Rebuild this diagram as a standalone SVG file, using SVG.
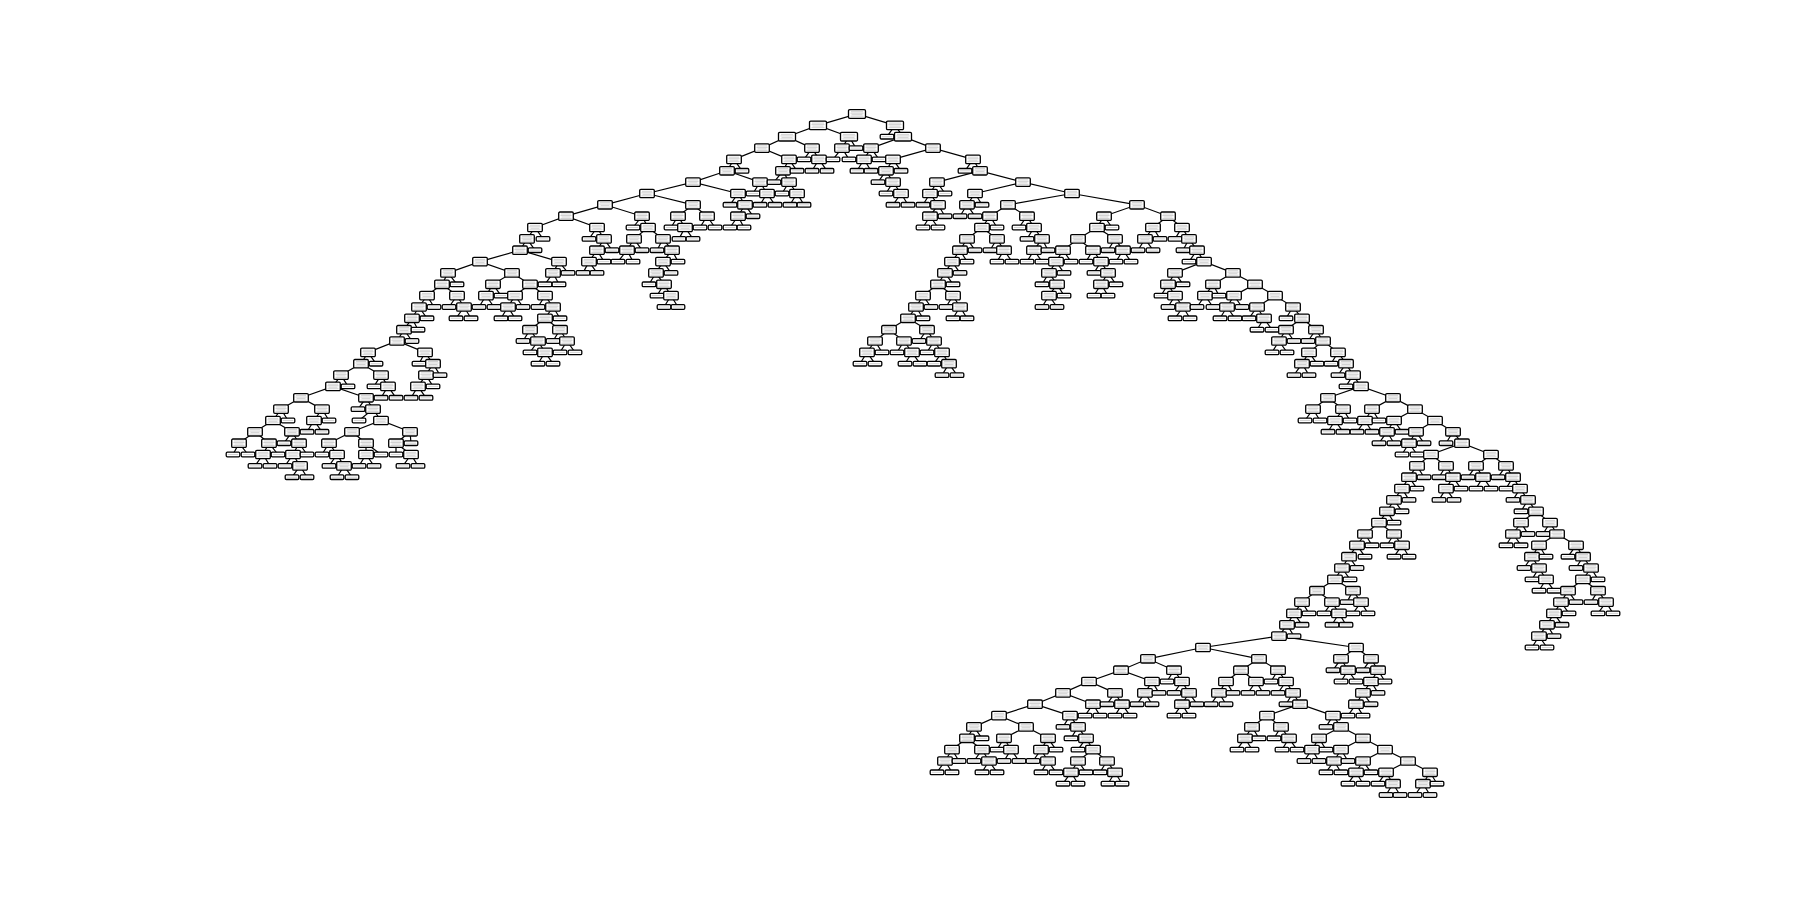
<svg xmlns="http://www.w3.org/2000/svg" width="1800" height="900" viewBox="0 0 1800 900">
<style>
.b{fill:#fff;stroke:#000;stroke-width:1.3}
.t{stroke:#b4b4b4;stroke-width:.6;fill:none}
#edges{stroke:#000;stroke-width:1.2;fill:none}
</style>
<defs>
<g id="W"><rect class="b" x="-8.5" y="-4.3" width="17" height="8.6" rx="1.2"/><path class="t" d="M-6-2.3h12M-6.5-.8h13M-5.5.7h11M-6.5 2.2h13"/></g>
<g id="I"><rect class="b" x="-7.3" y="-4.2" width="14.6" height="8.4" rx="1.2"/><path class="t" d="M-5-2.2h10M-5.5-.7h11M-4.5.8h9M-5.5 2.3h11"/></g>
<g id="L"><rect class="b" x="-6.8" y="-2.3" width="13.6" height="4.6" rx="1.2"/><path class="t" d="M-5.2 0h10.4"/></g>
</defs>
<rect width="1800" height="900" fill="#fff"/>
<g id="edges"><path d="M818 125.4L857 114L895 125.4
M787 136.7L818 125.4L849 136.7M887 136.7L895 125.4L903 136.7
M762 148.1L787 136.7L812 148.1M842 148.1L849 136.7L856 148.1M871 148.1L903 136.7L933 148.1
M734 159.4L762 148.1L789 159.4M804 159.4L812 148.1L819 159.4M833 159.4L842 148.1L849 159.4M864 159.4L871 148.1L879 159.4M893 159.4L933 148.1L973 159.4
M727 170.8L734 159.4L742 170.8M783 170.8L789 159.4L797 170.8M812 170.8L819 159.4L827 170.8M857 170.8L864 159.4L871 170.8M886 170.8L893 159.4L901 170.8M965 170.8L973 159.4L980 170.8
M693 182.1L727 170.8L760 182.1M774 182.1L783 170.8L789 182.1M878 182.1L886 170.8L893 182.1M937 182.1L980 170.8L1023 182.1
M647 193.5L693 182.1L738 193.5M753 193.5L760 182.1L767 193.5M782 193.5L789 182.1L797 193.5M886 193.5L893 182.1L901 193.5M930 193.5L937 182.1L945 193.5M975 193.5L1023 182.1L1072 193.5
M605 204.8L647 193.5L693 204.8M730 204.8L738 193.5L745 204.8M760 204.8L767 193.5L775 204.8M790 204.8L797 193.5L804 204.8M893 204.8L901 193.5L908 204.8M923 204.8L930 193.5L938 204.8M967 204.8L975 193.5L982 204.8M1008 204.8L1072 193.5L1137 204.8
M566 216.2L605 204.8L642 216.2M678 216.2L693 204.8L707 216.2M738 216.2L745 204.8L753 216.2M930 216.2L938 204.8L945 216.2M960 216.2L967 204.8L975 216.2M990 216.2L1008 204.8L1027 216.2M1104 216.2L1137 204.8L1168 216.2
M535 227.5L566 216.2L597 227.5M633 227.5L642 216.2L648 227.5M671 227.5L678 216.2L685 227.5M700 227.5L707 216.2L715 227.5M730 227.5L738 216.2L744 227.5M923 227.5L930 216.2L938 227.5M982 227.5L990 216.2L997 227.5M1019 227.5L1027 216.2L1034 227.5M1097 227.5L1104 216.2L1112 227.5M1153 227.5L1168 216.2L1182 227.5
M527 238.9L535 227.5L543 238.9M589 238.9L597 227.5L604 238.9M634 238.9L648 227.5L663 238.9M679 238.9L685 227.5L693 238.9M967 238.9L982 227.5L997 238.9M1027 238.9L1034 227.5L1042 238.9M1078 238.9L1097 227.5L1115 238.9M1145 238.9L1153 227.5L1160 238.9M1175 238.9L1182 227.5L1189 238.9
M520 250.2L527 238.9L535 250.2M597 250.2L604 238.9L612 250.2M627 250.2L634 238.9L642 250.2M657 250.2L663 238.9L672 250.2M960 250.2L967 238.9L975 250.2M990 250.2L997 238.9L1004 250.2M1034 250.2L1042 238.9L1048 250.2M1063 250.2L1078 238.9L1093 250.2M1108 250.2L1115 238.9L1123 250.2M1138 250.2L1145 238.9L1153 250.2M1183 250.2L1189 238.9L1197 250.2
M480 261.6L520 250.2L559 261.6M589 261.6L597 250.2L604 261.6M618 261.6L627 250.2L633 261.6M663 261.6L672 250.2L678 261.6M952 261.6L960 250.2L967 261.6M997 261.6L1004 250.2L1012 261.6M1027 261.6L1034 250.2L1042 261.6M1056 261.6L1063 250.2L1071 261.6M1086 261.6L1093 250.2L1101 261.6M1116 261.6L1123 250.2L1131 261.6M1189 261.6L1197 250.2L1204 261.6
M448 272.9L480 261.6L512 272.9M553 272.9L559 261.6L568 272.9M583 272.9L589 261.6L597 272.9M656 272.9L663 261.6L671 272.9M945 272.9L952 261.6L960 272.9M1049 272.9L1056 261.6L1064 272.9M1094 272.9L1101 261.6L1108 272.9M1175 272.9L1204 261.6L1233 272.9
M442 284.3L448 272.9L457 284.3M493 284.3L512 272.9L530 284.3M545 284.3L553 272.9L559 284.3M649 284.3L656 272.9L664 284.3M938 284.3L945 272.9L953 284.3M1042 284.3L1049 272.9L1057 284.3M1101 284.3L1108 272.9L1116 284.3M1168 284.3L1175 272.9L1183 284.3M1213 284.3L1233 272.9L1255 284.3
M427 295.6L442 284.3L457 295.6M486 295.6L493 284.3L501 295.6M515 295.6L530 284.3L545 295.6M657 295.6L664 284.3L671 295.6M923 295.6L938 284.3L953 295.6M1049 295.6L1057 284.3L1064 295.6M1094 295.6L1101 284.3L1108 295.6M1161 295.6L1168 284.3L1175 295.6M1205 295.6L1213 284.3L1219 295.6M1234 295.6L1255 284.3L1275 295.6
M419 307L427 295.6L434 307M449 307L457 295.6L464 307M479 307L486 295.6L494 307M508 307L515 295.6L523 307M538 307L545 295.6L553 307M664 307L671 295.6L678 307M916 307L923 295.6L931 307M946 307L953 295.6L960 307M1042 307L1049 295.6L1057 307M1168 307L1175 295.6L1183 307M1197 307L1205 295.6L1213 307M1227 307L1234 295.6L1242 307M1257 307L1275 295.6L1293 307
M412 318.3L419 307L427 318.3M456 318.3L464 307L471 318.3M501 318.3L508 307L515 318.3M545 318.3L553 307L560 318.3M908 318.3L916 307L923 318.3M953 318.3L960 307L967 318.3M1175 318.3L1183 307L1190 318.3M1220 318.3L1227 307L1235 318.3M1249 318.3L1257 307L1264 318.3M1286 318.3L1293 307L1302 318.3
M404 329.7L412 318.3L418 329.7M530 329.7L545 318.3L560 329.7M889 329.7L908 318.3L927 329.7M1257 329.7L1264 318.3L1272 329.7M1286 329.7L1302 318.3L1316 329.7
M397 341L404 329.7L412 341M523 341L530 329.7L538 341M553 341L560 329.7L567 341M875 341L889 329.7L904 341M919 341L927 329.7L934 341M1279 341L1286 329.7L1294 341M1308 341L1316 329.7L1323 341
M368 352.4L397 341L425 352.4M530 352.4L538 341L545 352.4M560 352.4L567 341L575 352.4M867 352.4L875 341L882 352.4M897 352.4L904 341L912 352.4M927 352.4L934 341L942 352.4M1272 352.4L1279 341L1287 352.4M1309 352.4L1323 341L1338 352.4
M361 363.7L368 352.4L376 363.7M419 363.7L425 352.4L433 363.7M538 363.7L545 352.4L553 363.7M860 363.7L867 352.4L875 363.7M905 363.7L912 352.4L920 363.7M934 363.7L942 352.4L949 363.7M1302 363.7L1309 352.4L1317 363.7M1331 363.7L1338 352.4L1346 363.7
M341 375.1L361 363.7L381 375.1M426 375.1L433 363.7L440 375.1M942 375.1L949 363.7L957 375.1M1294 375.1L1302 363.7L1309 375.1M1338 375.1L1346 363.7L1353 375.1
M333 386.4L341 375.1L348 386.4M374 386.4L381 375.1L388 386.4M418 386.4L426 375.1L433 386.4M1346 386.4L1353 375.1L1361 386.4
M301 397.8L333 386.4L366 397.8M381 397.8L388 386.4L396 397.8M411 397.8L418 386.4L426 397.8M1328 397.8L1361 386.4L1393 397.8
M281 409.1L301 397.8L322 409.1M358 409.1L366 397.8L373 409.1M1313 409.1L1328 397.8L1343 409.1M1372 409.1L1393 397.8L1415 409.1
M273 420.5L281 409.1L288 420.5M314 420.5L322 409.1L329 420.5M359 420.5L373 409.1L381 420.5M1305 420.5L1313 409.1L1320 420.5M1335 420.5L1343 409.1L1350 420.5M1365 420.5L1372 409.1L1379 420.5M1394 420.5L1415 409.1L1435 420.5
M255 431.8L273 420.5L292 431.8M307 431.8L314 420.5L322 431.8M352 431.8L381 420.5L410 431.8M1328 431.8L1335 420.5L1343 431.8M1357 431.8L1365 420.5L1372 431.8M1387 431.8L1394 420.5L1402 431.8M1416 431.8L1435 420.5L1453 431.8
M239 443.2L255 431.8L269 443.2M284 443.2L292 431.8L299 443.2M329 443.2L352 431.8L366 443.2M396 443.2L410 431.8L411 443.2M1379 443.2L1387 431.8L1394 443.2M1409 443.2L1416 431.8L1424 443.2M1446 443.2L1453 431.8L1462 443.2
M233 454.5L239 443.2L248 454.5M263 454.5L269 443.2L278 454.5M293 454.5L299 443.2L307 454.5M322 454.5L329 443.2L337 454.5M366 454.5L366 443.2L381 454.5M396 454.5L396 443.2L411 454.5M1402 454.5L1409 443.2L1417 454.5M1431 454.5L1462 443.2L1491 454.5
M255 465.9L263 454.5L270 465.9M285 465.9L293 454.5L300 465.9M329 465.9L337 454.5L344 465.9M359 465.9L366 454.5L374 465.9M403 465.9L411 454.5L418 465.9M1417 465.9L1431 454.5L1446 465.9M1476 465.9L1491 454.5L1506 465.9
M292 477.2L300 465.9L307 477.2M337 477.2L344 465.9L352 477.2M1409 477.2L1417 465.9L1424 477.2M1439 477.2L1446 465.9L1453 477.2M1468 477.2L1476 465.9L1483 477.2M1498 477.2L1506 465.9L1513 477.2
M1402 488.6L1409 477.2L1417 488.6M1446 488.6L1453 477.2L1461 488.6M1476 488.6L1483 477.2L1491 488.6M1506 488.6L1513 477.2L1520 488.6
M1394 499.9L1402 488.6L1409 499.9M1439 499.9L1446 488.6L1454 499.9M1513 499.9L1520 488.6L1528 499.9
M1387 511.3L1394 499.9L1402 511.3M1521 511.3L1528 499.9L1536 511.3
M1379 522.6L1387 511.3L1394 522.6M1521 522.6L1536 511.3L1550 522.6
M1365 534L1379 522.6L1394 534M1513 534L1521 522.6L1528 534M1543 534L1550 522.6L1557 534
M1357 545.3L1365 534L1372 545.3M1387 545.3L1394 534L1402 545.3M1506 545.3L1513 534L1521 545.3M1539 545.3L1557 534L1576 545.3
M1349 556.7L1357 545.3L1365 556.7M1394 556.7L1402 545.3L1409 556.7M1532 556.7L1539 545.3L1546 556.7M1568 556.7L1576 545.3L1583 556.7
M1342 568L1349 556.7L1357 568M1524 568L1532 556.7L1539 568M1576 568L1583 556.7L1591 568
M1335 579.4L1342 568L1350 579.4M1532 579.4L1539 568L1546 579.4M1583 579.4L1591 568L1598 579.4
M1317 590.7L1335 579.4L1353 590.7M1539 590.7L1546 579.4L1554 590.7M1568 590.7L1583 579.4L1598 590.7
M1302 602.1L1317 590.7L1332 602.1M1347 602.1L1353 590.7L1361 602.1M1561 602.1L1568 590.7L1576 602.1M1591 602.1L1598 590.7L1606 602.1
M1294 613.4L1302 602.1L1309 613.4M1324 613.4L1332 602.1L1339 613.4M1353 613.4L1361 602.1L1368 613.4M1554 613.4L1561 602.1L1569 613.4M1598 613.4L1606 602.1L1613 613.4
M1287 624.8L1294 613.4L1302 624.8M1332 624.8L1339 613.4L1346 624.8M1547 624.8L1554 613.4L1562 624.8
M1279 636.1L1287 624.8L1294 636.1M1539 636.1L1547 624.8L1554 636.1
M1203 647.5L1279 636.1L1356 647.5M1532 647.5L1539 636.1L1547 647.5
M1148 658.8L1203 647.5L1259 658.8M1341 658.8L1356 647.5L1371 658.8
M1121 670.2L1148 658.8L1174 670.2M1241 670.2L1259 658.8L1278 670.2M1333 670.2L1341 658.8L1348 670.2M1363 670.2L1371 658.8L1378 670.2
M1089 681.5L1121 670.2L1152 681.5M1167 681.5L1174 670.2L1182 681.5M1226 681.5L1241 670.2L1256 681.5M1271 681.5L1278 670.2L1286 681.5M1341 681.5L1348 670.2L1356 681.5M1371 681.5L1378 670.2L1385 681.5
M1063 692.9L1089 681.5L1115 692.9M1145 692.9L1152 681.5L1159 692.9M1174 692.9L1182 681.5L1189 692.9M1219 692.9L1226 681.5L1233 692.9M1248 692.9L1256 681.5L1263 692.9M1278 692.9L1286 681.5L1293 692.9M1363 692.9L1371 681.5L1378 692.9
M1035 704.2L1063 692.9L1093 704.2M1107 704.2L1115 692.9L1122 704.2M1137 704.2L1145 692.9L1152 704.2M1182 704.2L1189 692.9L1197 704.2M1211 704.2L1219 692.9L1226 704.2M1286 704.2L1293 692.9L1300 704.2M1356 704.2L1363 692.9L1371 704.2
M999 715.6L1035 704.2L1070 715.6M1085 715.6L1093 704.2L1100 715.6M1115 715.6L1122 704.2L1130 715.6M1174 715.6L1182 704.2L1189 715.6M1267 715.6L1300 704.2L1333 715.6M1348 715.6L1356 704.2L1363 715.6
M974 726.9L999 715.6L1026 726.9M1063 726.9L1070 715.6L1078 726.9M1252 726.9L1267 715.6L1281 726.9M1326 726.9L1333 715.6L1341 726.9
M967 738.3L974 726.9L982 738.3M1004 738.3L1026 726.9L1048 738.3M1071 738.3L1078 726.9L1086 738.3M1245 738.3L1252 726.9L1259 738.3M1274 738.3L1281 726.9L1289 738.3M1319 738.3L1341 726.9L1363 738.3
M952 749.6L967 738.3L982 749.6M997 749.6L1004 738.3L1011 749.6M1041 749.6L1048 738.3L1056 749.6M1078 749.6L1086 738.3L1093 749.6M1237 749.6L1245 738.3L1252 749.6M1282 749.6L1289 738.3L1297 749.6M1312 749.6L1319 738.3L1326 749.6M1341 749.6L1363 738.3L1385 749.6
M945 761L952 749.6L959 761M974 761L982 749.6L989 761M1004 761L1011 749.6L1019 761M1033 761L1041 749.6L1048 761M1078 761L1093 749.6L1107 761M1304 761L1312 749.6L1319 761M1334 761L1341 749.6L1348 761M1363 761L1385 749.6L1408 761
M937 772.3L945 761L952 772.3M982 772.3L989 761L997 772.3M1041 772.3L1048 761L1056 772.3M1071 772.3L1078 761L1086 772.3M1100 772.3L1107 761L1115 772.3M1326 772.3L1334 761L1341 772.3M1356 772.3L1363 761L1371 772.3M1386 772.3L1408 761L1430 772.3
M1063 783.7L1071 772.3L1078 783.7M1108 783.7L1115 772.3L1122 783.7M1348 783.7L1356 772.3L1363 783.7M1378 783.7L1386 772.3L1393 783.7M1423 783.7L1430 772.3L1437 783.7
M1386 795L1393 783.7L1400 795M1415 795L1423 783.7L1430 795"/></g>
<g id="nodes">
<g transform="translate(0 114)"><g id="n0-857"><use href="#W" x="857"/></g></g>
<g transform="translate(0 125.4)"><g id="n1-818"><use href="#W" x="818"/></g><g id="n1-895"><use href="#W" x="895"/></g></g>
<g transform="translate(0 136.7)"><g id="n2-787"><use href="#W" x="787"/></g><g id="n2-849"><use href="#W" x="849"/></g><g id="n2-887"><use href="#L" x="887"/></g><g id="n2-903"><use href="#W" x="903"/></g></g>
<g transform="translate(0 148.1)"><g id="n3-762"><use href="#I" x="762"/></g><g id="n3-812"><use href="#I" x="812"/></g><g id="n3-842"><use href="#I" x="842"/></g><g id="n3-856"><use href="#L" x="856"/></g><g id="n3-871"><use href="#I" x="871"/></g><g id="n3-933"><use href="#I" x="933"/></g></g>
<g transform="translate(0 159.4)"><g id="n4-734"><use href="#I" x="734"/></g><g id="n4-789"><use href="#I" x="789"/></g><g id="n4-804"><use href="#L" x="804"/></g><g id="n4-819"><use href="#I" x="819"/></g><g id="n4-833"><use href="#L" x="833"/></g><g id="n4-849"><use href="#L" x="849"/></g><g id="n4-864"><use href="#I" x="864"/></g><g id="n4-879"><use href="#L" x="879"/></g><g id="n4-893"><use href="#I" x="893"/></g><g id="n4-973"><use href="#I" x="973"/></g></g>
<g transform="translate(0 170.8)"><g id="n5-727"><use href="#I" x="727"/></g><g id="n5-742"><use href="#L" x="742"/></g><g id="n5-783"><use href="#I" x="783"/></g><g id="n5-797"><use href="#L" x="797"/></g><g id="n5-812"><use href="#L" x="812"/></g><g id="n5-827"><use href="#L" x="827"/></g><g id="n5-857"><use href="#L" x="857"/></g><g id="n5-871"><use href="#L" x="871"/></g><g id="n5-886"><use href="#I" x="886"/></g><g id="n5-901"><use href="#L" x="901"/></g><g id="n5-965"><use href="#L" x="965"/></g><g id="n5-980"><use href="#I" x="980"/></g></g>
<g transform="translate(0 182.1)"><g id="n6-693"><use href="#I" x="693"/></g><g id="n6-760"><use href="#I" x="760"/></g><g id="n6-774"><use href="#L" x="774"/></g><g id="n6-789"><use href="#I" x="789"/></g><g id="n6-878"><use href="#L" x="878"/></g><g id="n6-893"><use href="#I" x="893"/></g><g id="n6-937"><use href="#I" x="937"/></g><g id="n6-1023"><use href="#I" x="1023"/></g></g>
<g transform="translate(0 193.5)"><g id="n7-647"><use href="#I" x="647"/></g><g id="n7-738"><use href="#I" x="738"/></g><g id="n7-753"><use href="#L" x="753"/></g><g id="n7-767"><use href="#I" x="767"/></g><g id="n7-782"><use href="#L" x="782"/></g><g id="n7-797"><use href="#I" x="797"/></g><g id="n7-886"><use href="#L" x="886"/></g><g id="n7-901"><use href="#I" x="901"/></g><g id="n7-930"><use href="#I" x="930"/></g><g id="n7-945"><use href="#L" x="945"/></g><g id="n7-975"><use href="#I" x="975"/></g><g id="n7-1072"><use href="#I" x="1072"/></g></g>
<g transform="translate(0 204.8)"><g id="n8-605"><use href="#I" x="605"/></g><g id="n8-693"><use href="#I" x="693"/></g><g id="n8-730"><use href="#L" x="730"/></g><g id="n8-745"><use href="#I" x="745"/></g><g id="n8-760"><use href="#L" x="760"/></g><g id="n8-775"><use href="#L" x="775"/></g><g id="n8-790"><use href="#L" x="790"/></g><g id="n8-804"><use href="#L" x="804"/></g><g id="n8-893"><use href="#L" x="893"/></g><g id="n8-908"><use href="#L" x="908"/></g><g id="n8-923"><use href="#L" x="923"/></g><g id="n8-938"><use href="#I" x="938"/></g><g id="n8-967"><use href="#I" x="967"/></g><g id="n8-982"><use href="#L" x="982"/></g><g id="n8-1008"><use href="#I" x="1008"/></g><g id="n8-1137"><use href="#I" x="1137"/></g></g>
<g transform="translate(0 216.2)"><g id="n9-566"><use href="#I" x="566"/></g><g id="n9-642"><use href="#I" x="642"/></g><g id="n9-678"><use href="#I" x="678"/></g><g id="n9-707"><use href="#I" x="707"/></g><g id="n9-738"><use href="#I" x="738"/></g><g id="n9-753"><use href="#L" x="753"/></g><g id="n9-930"><use href="#I" x="930"/></g><g id="n9-945"><use href="#L" x="945"/></g><g id="n9-960"><use href="#L" x="960"/></g><g id="n9-975"><use href="#L" x="975"/></g><g id="n9-990"><use href="#I" x="990"/></g><g id="n9-1027"><use href="#I" x="1027"/></g><g id="n9-1104"><use href="#I" x="1104"/></g><g id="n9-1168"><use href="#I" x="1168"/></g></g>
<g transform="translate(0 227.5)"><g id="n10-535"><use href="#I" x="535"/></g><g id="n10-597"><use href="#I" x="597"/></g><g id="n10-633"><use href="#L" x="633"/></g><g id="n10-648"><use href="#I" x="648"/></g><g id="n10-671"><use href="#L" x="671"/></g><g id="n10-685"><use href="#I" x="685"/></g><g id="n10-700"><use href="#L" x="700"/></g><g id="n10-715"><use href="#L" x="715"/></g><g id="n10-730"><use href="#L" x="730"/></g><g id="n10-744"><use href="#L" x="744"/></g><g id="n10-923"><use href="#L" x="923"/></g><g id="n10-938"><use href="#L" x="938"/></g><g id="n10-982"><use href="#I" x="982"/></g><g id="n10-997"><use href="#L" x="997"/></g><g id="n10-1019"><use href="#L" x="1019"/></g><g id="n10-1034"><use href="#I" x="1034"/></g><g id="n10-1097"><use href="#I" x="1097"/></g><g id="n10-1112"><use href="#L" x="1112"/></g><g id="n10-1153"><use href="#I" x="1153"/></g><g id="n10-1182"><use href="#I" x="1182"/></g></g>
<g transform="translate(0 238.9)"><g id="n11-527"><use href="#I" x="527"/></g><g id="n11-543"><use href="#L" x="543"/></g><g id="n11-589"><use href="#L" x="589"/></g><g id="n11-604"><use href="#I" x="604"/></g><g id="n11-634"><use href="#I" x="634"/></g><g id="n11-663"><use href="#I" x="663"/></g><g id="n11-679"><use href="#L" x="679"/></g><g id="n11-693"><use href="#L" x="693"/></g><g id="n11-967"><use href="#I" x="967"/></g><g id="n11-997"><use href="#I" x="997"/></g><g id="n11-1027"><use href="#L" x="1027"/></g><g id="n11-1042"><use href="#I" x="1042"/></g><g id="n11-1078"><use href="#I" x="1078"/></g><g id="n11-1115"><use href="#I" x="1115"/></g><g id="n11-1145"><use href="#I" x="1145"/></g><g id="n11-1160"><use href="#L" x="1160"/></g><g id="n11-1175"><use href="#L" x="1175"/></g><g id="n11-1189"><use href="#I" x="1189"/></g></g>
<g transform="translate(0 250.2)"><g id="n12-520"><use href="#I" x="520"/></g><g id="n12-535"><use href="#L" x="535"/></g><g id="n12-597"><use href="#I" x="597"/></g><g id="n12-612"><use href="#L" x="612"/></g><g id="n12-627"><use href="#I" x="627"/></g><g id="n12-642"><use href="#L" x="642"/></g><g id="n12-657"><use href="#L" x="657"/></g><g id="n12-672"><use href="#I" x="672"/></g><g id="n12-960"><use href="#I" x="960"/></g><g id="n12-975"><use href="#L" x="975"/></g><g id="n12-990"><use href="#L" x="990"/></g><g id="n12-1004"><use href="#I" x="1004"/></g><g id="n12-1034"><use href="#I" x="1034"/></g><g id="n12-1048"><use href="#L" x="1048"/></g><g id="n12-1063"><use href="#I" x="1063"/></g><g id="n12-1093"><use href="#I" x="1093"/></g><g id="n12-1108"><use href="#L" x="1108"/></g><g id="n12-1123"><use href="#I" x="1123"/></g><g id="n12-1138"><use href="#L" x="1138"/></g><g id="n12-1153"><use href="#L" x="1153"/></g><g id="n12-1183"><use href="#L" x="1183"/></g><g id="n12-1197"><use href="#I" x="1197"/></g></g>
<g transform="translate(0 261.6)"><g id="n13-480"><use href="#I" x="480"/></g><g id="n13-559"><use href="#I" x="559"/></g><g id="n13-589"><use href="#I" x="589"/></g><g id="n13-604"><use href="#L" x="604"/></g><g id="n13-618"><use href="#L" x="618"/></g><g id="n13-633"><use href="#L" x="633"/></g><g id="n13-663"><use href="#I" x="663"/></g><g id="n13-678"><use href="#L" x="678"/></g><g id="n13-952"><use href="#I" x="952"/></g><g id="n13-967"><use href="#L" x="967"/></g><g id="n13-997"><use href="#L" x="997"/></g><g id="n13-1012"><use href="#L" x="1012"/></g><g id="n13-1027"><use href="#L" x="1027"/></g><g id="n13-1042"><use href="#L" x="1042"/></g><g id="n13-1056"><use href="#I" x="1056"/></g><g id="n13-1071"><use href="#L" x="1071"/></g><g id="n13-1086"><use href="#L" x="1086"/></g><g id="n13-1101"><use href="#I" x="1101"/></g><g id="n13-1116"><use href="#L" x="1116"/></g><g id="n13-1131"><use href="#L" x="1131"/></g><g id="n13-1189"><use href="#L" x="1189"/></g><g id="n13-1204"><use href="#I" x="1204"/></g></g>
<g transform="translate(0 272.9)"><g id="n14-448"><use href="#I" x="448"/></g><g id="n14-512"><use href="#I" x="512"/></g><g id="n14-553"><use href="#I" x="553"/></g><g id="n14-568"><use href="#L" x="568"/></g><g id="n14-583"><use href="#L" x="583"/></g><g id="n14-597"><use href="#L" x="597"/></g><g id="n14-656"><use href="#I" x="656"/></g><g id="n14-671"><use href="#L" x="671"/></g><g id="n14-945"><use href="#I" x="945"/></g><g id="n14-960"><use href="#L" x="960"/></g><g id="n14-1049"><use href="#I" x="1049"/></g><g id="n14-1064"><use href="#L" x="1064"/></g><g id="n14-1094"><use href="#L" x="1094"/></g><g id="n14-1108"><use href="#I" x="1108"/></g><g id="n14-1175"><use href="#I" x="1175"/></g><g id="n14-1233"><use href="#I" x="1233"/></g></g>
<g transform="translate(0 284.3)"><g id="n15-442"><use href="#I" x="442"/></g><g id="n15-457"><use href="#L" x="457"/></g><g id="n15-493"><use href="#I" x="493"/></g><g id="n15-530"><use href="#I" x="530"/></g><g id="n15-545"><use href="#L" x="545"/></g><g id="n15-559"><use href="#L" x="559"/></g><g id="n15-649"><use href="#L" x="649"/></g><g id="n15-664"><use href="#I" x="664"/></g><g id="n15-938"><use href="#I" x="938"/></g><g id="n15-953"><use href="#L" x="953"/></g><g id="n15-1042"><use href="#L" x="1042"/></g><g id="n15-1057"><use href="#I" x="1057"/></g><g id="n15-1101"><use href="#I" x="1101"/></g><g id="n15-1116"><use href="#L" x="1116"/></g><g id="n15-1168"><use href="#I" x="1168"/></g><g id="n15-1183"><use href="#L" x="1183"/></g><g id="n15-1213"><use href="#I" x="1213"/></g><g id="n15-1255"><use href="#I" x="1255"/></g></g>
<g transform="translate(0 295.6)"><g id="n16-427"><use href="#I" x="427"/></g><g id="n16-457"><use href="#I" x="457"/></g><g id="n16-486"><use href="#I" x="486"/></g><g id="n16-501"><use href="#L" x="501"/></g><g id="n16-515"><use href="#I" x="515"/></g><g id="n16-545"><use href="#I" x="545"/></g><g id="n16-657"><use href="#L" x="657"/></g><g id="n16-671"><use href="#I" x="671"/></g><g id="n16-923"><use href="#I" x="923"/></g><g id="n16-953"><use href="#I" x="953"/></g><g id="n16-1049"><use href="#I" x="1049"/></g><g id="n16-1064"><use href="#L" x="1064"/></g><g id="n16-1094"><use href="#L" x="1094"/></g><g id="n16-1108"><use href="#L" x="1108"/></g><g id="n16-1161"><use href="#L" x="1161"/></g><g id="n16-1175"><use href="#I" x="1175"/></g><g id="n16-1205"><use href="#I" x="1205"/></g><g id="n16-1219"><use href="#L" x="1219"/></g><g id="n16-1234"><use href="#I" x="1234"/></g><g id="n16-1275"><use href="#I" x="1275"/></g></g>
<g transform="translate(0 307)"><g id="n17-419"><use href="#I" x="419"/></g><g id="n17-434"><use href="#L" x="434"/></g><g id="n17-449"><use href="#L" x="449"/></g><g id="n17-464"><use href="#I" x="464"/></g><g id="n17-479"><use href="#L" x="479"/></g><g id="n17-494"><use href="#L" x="494"/></g><g id="n17-508"><use href="#I" x="508"/></g><g id="n17-523"><use href="#L" x="523"/></g><g id="n17-538"><use href="#L" x="538"/></g><g id="n17-553"><use href="#I" x="553"/></g><g id="n17-664"><use href="#L" x="664"/></g><g id="n17-678"><use href="#L" x="678"/></g><g id="n17-916"><use href="#I" x="916"/></g><g id="n17-931"><use href="#L" x="931"/></g><g id="n17-946"><use href="#L" x="946"/></g><g id="n17-960"><use href="#I" x="960"/></g><g id="n17-1042"><use href="#L" x="1042"/></g><g id="n17-1057"><use href="#L" x="1057"/></g><g id="n17-1168"><use href="#L" x="1168"/></g><g id="n17-1183"><use href="#I" x="1183"/></g><g id="n17-1197"><use href="#L" x="1197"/></g><g id="n17-1213"><use href="#L" x="1213"/></g><g id="n17-1227"><use href="#I" x="1227"/></g><g id="n17-1242"><use href="#L" x="1242"/></g><g id="n17-1257"><use href="#I" x="1257"/></g><g id="n17-1293"><use href="#I" x="1293"/></g></g>
<g transform="translate(0 318.3)"><g id="n18-412"><use href="#I" x="412"/></g><g id="n18-427"><use href="#L" x="427"/></g><g id="n18-456"><use href="#L" x="456"/></g><g id="n18-471"><use href="#L" x="471"/></g><g id="n18-501"><use href="#L" x="501"/></g><g id="n18-515"><use href="#L" x="515"/></g><g id="n18-545"><use href="#I" x="545"/></g><g id="n18-560"><use href="#L" x="560"/></g><g id="n18-908"><use href="#I" x="908"/></g><g id="n18-923"><use href="#L" x="923"/></g><g id="n18-953"><use href="#L" x="953"/></g><g id="n18-967"><use href="#L" x="967"/></g><g id="n18-1175"><use href="#L" x="1175"/></g><g id="n18-1190"><use href="#L" x="1190"/></g><g id="n18-1220"><use href="#L" x="1220"/></g><g id="n18-1235"><use href="#L" x="1235"/></g><g id="n18-1249"><use href="#L" x="1249"/></g><g id="n18-1264"><use href="#I" x="1264"/></g><g id="n18-1286"><use href="#L" x="1286"/></g><g id="n18-1302"><use href="#I" x="1302"/></g></g>
<g transform="translate(0 329.7)"><g id="n19-404"><use href="#I" x="404"/></g><g id="n19-418"><use href="#L" x="418"/></g><g id="n19-530"><use href="#I" x="530"/></g><g id="n19-560"><use href="#I" x="560"/></g><g id="n19-889"><use href="#I" x="889"/></g><g id="n19-927"><use href="#I" x="927"/></g><g id="n19-1257"><use href="#L" x="1257"/></g><g id="n19-1272"><use href="#L" x="1272"/></g><g id="n19-1286"><use href="#I" x="1286"/></g><g id="n19-1316"><use href="#I" x="1316"/></g></g>
<g transform="translate(0 341)"><g id="n20-397"><use href="#I" x="397"/></g><g id="n20-412"><use href="#L" x="412"/></g><g id="n20-523"><use href="#L" x="523"/></g><g id="n20-538"><use href="#I" x="538"/></g><g id="n20-553"><use href="#L" x="553"/></g><g id="n20-567"><use href="#I" x="567"/></g><g id="n20-875"><use href="#I" x="875"/></g><g id="n20-904"><use href="#I" x="904"/></g><g id="n20-919"><use href="#L" x="919"/></g><g id="n20-934"><use href="#I" x="934"/></g><g id="n20-1279"><use href="#I" x="1279"/></g><g id="n20-1294"><use href="#L" x="1294"/></g><g id="n20-1308"><use href="#L" x="1308"/></g><g id="n20-1323"><use href="#I" x="1323"/></g></g>
<g transform="translate(0 352.4)"><g id="n21-368"><use href="#I" x="368"/></g><g id="n21-425"><use href="#I" x="425"/></g><g id="n21-530"><use href="#L" x="530"/></g><g id="n21-545"><use href="#I" x="545"/></g><g id="n21-560"><use href="#L" x="560"/></g><g id="n21-575"><use href="#L" x="575"/></g><g id="n21-867"><use href="#I" x="867"/></g><g id="n21-882"><use href="#L" x="882"/></g><g id="n21-897"><use href="#L" x="897"/></g><g id="n21-912"><use href="#I" x="912"/></g><g id="n21-927"><use href="#L" x="927"/></g><g id="n21-942"><use href="#I" x="942"/></g><g id="n21-1272"><use href="#L" x="1272"/></g><g id="n21-1287"><use href="#L" x="1287"/></g><g id="n21-1309"><use href="#I" x="1309"/></g><g id="n21-1338"><use href="#I" x="1338"/></g></g>
<g transform="translate(0 363.7)"><g id="n22-361"><use href="#I" x="361"/></g><g id="n22-376"><use href="#L" x="376"/></g><g id="n22-419"><use href="#L" x="419"/></g><g id="n22-433"><use href="#I" x="433"/></g><g id="n22-538"><use href="#L" x="538"/></g><g id="n22-553"><use href="#L" x="553"/></g><g id="n22-860"><use href="#L" x="860"/></g><g id="n22-875"><use href="#L" x="875"/></g><g id="n22-905"><use href="#L" x="905"/></g><g id="n22-920"><use href="#L" x="920"/></g><g id="n22-934"><use href="#L" x="934"/></g><g id="n22-949"><use href="#I" x="949"/></g><g id="n22-1302"><use href="#I" x="1302"/></g><g id="n22-1317"><use href="#L" x="1317"/></g><g id="n22-1331"><use href="#L" x="1331"/></g><g id="n22-1346"><use href="#I" x="1346"/></g></g>
<g transform="translate(0 375.1)"><g id="n23-341"><use href="#I" x="341"/></g><g id="n23-381"><use href="#I" x="381"/></g><g id="n23-426"><use href="#I" x="426"/></g><g id="n23-440"><use href="#L" x="440"/></g><g id="n23-942"><use href="#L" x="942"/></g><g id="n23-957"><use href="#L" x="957"/></g><g id="n23-1294"><use href="#L" x="1294"/></g><g id="n23-1309"><use href="#L" x="1309"/></g><g id="n23-1338"><use href="#L" x="1338"/></g><g id="n23-1353"><use href="#I" x="1353"/></g></g>
<g transform="translate(0 386.4)"><g id="n24-333"><use href="#I" x="333"/></g><g id="n24-348"><use href="#L" x="348"/></g><g id="n24-374"><use href="#L" x="374"/></g><g id="n24-388"><use href="#I" x="388"/></g><g id="n24-418"><use href="#I" x="418"/></g><g id="n24-433"><use href="#L" x="433"/></g><g id="n24-1346"><use href="#L" x="1346"/></g><g id="n24-1361"><use href="#I" x="1361"/></g></g>
<g transform="translate(0 397.8)"><g id="n25-301"><use href="#I" x="301"/></g><g id="n25-366"><use href="#I" x="366"/></g><g id="n25-381"><use href="#L" x="381"/></g><g id="n25-396"><use href="#L" x="396"/></g><g id="n25-411"><use href="#L" x="411"/></g><g id="n25-426"><use href="#L" x="426"/></g><g id="n25-1328"><use href="#I" x="1328"/></g><g id="n25-1393"><use href="#I" x="1393"/></g></g>
<g transform="translate(0 409.1)"><g id="n26-281"><use href="#I" x="281"/></g><g id="n26-322"><use href="#I" x="322"/></g><g id="n26-358"><use href="#L" x="358"/></g><g id="n26-373"><use href="#I" x="373"/></g><g id="n26-1313"><use href="#I" x="1313"/></g><g id="n26-1343"><use href="#I" x="1343"/></g><g id="n26-1372"><use href="#I" x="1372"/></g><g id="n26-1415"><use href="#I" x="1415"/></g></g>
<g transform="translate(0 420.5)"><g id="n27-273"><use href="#I" x="273"/></g><g id="n27-288"><use href="#L" x="288"/></g><g id="n27-314"><use href="#I" x="314"/></g><g id="n27-329"><use href="#L" x="329"/></g><g id="n27-359"><use href="#L" x="359"/></g><g id="n27-381"><use href="#I" x="381"/></g><g id="n27-1305"><use href="#L" x="1305"/></g><g id="n27-1320"><use href="#L" x="1320"/></g><g id="n27-1335"><use href="#I" x="1335"/></g><g id="n27-1350"><use href="#L" x="1350"/></g><g id="n27-1365"><use href="#I" x="1365"/></g><g id="n27-1379"><use href="#L" x="1379"/></g><g id="n27-1394"><use href="#I" x="1394"/></g><g id="n27-1435"><use href="#I" x="1435"/></g></g>
<g transform="translate(0 431.8)"><g id="n28-255"><use href="#I" x="255"/></g><g id="n28-292"><use href="#I" x="292"/></g><g id="n28-307"><use href="#L" x="307"/></g><g id="n28-322"><use href="#L" x="322"/></g><g id="n28-352"><use href="#I" x="352"/></g><g id="n28-410"><use href="#I" x="410"/></g><g id="n28-1328"><use href="#L" x="1328"/></g><g id="n28-1343"><use href="#L" x="1343"/></g><g id="n28-1357"><use href="#L" x="1357"/></g><g id="n28-1372"><use href="#L" x="1372"/></g><g id="n28-1387"><use href="#I" x="1387"/></g><g id="n28-1402"><use href="#L" x="1402"/></g><g id="n28-1416"><use href="#I" x="1416"/></g><g id="n28-1453"><use href="#I" x="1453"/></g></g>
<g transform="translate(0 443.2)"><g id="n29-239"><use href="#I" x="239"/></g><g id="n29-269"><use href="#I" x="269"/></g><g id="n29-284"><use href="#L" x="284"/></g><g id="n29-299"><use href="#I" x="299"/></g><g id="n29-329"><use href="#I" x="329"/></g><g id="n29-366"><use href="#I" x="366"/></g><g id="n29-396"><use href="#I" x="396"/></g><g id="n29-411"><use href="#L" x="411"/></g><g id="n29-1379"><use href="#L" x="1379"/></g><g id="n29-1394"><use href="#L" x="1394"/></g><g id="n29-1409"><use href="#I" x="1409"/></g><g id="n29-1424"><use href="#L" x="1424"/></g><g id="n29-1446"><use href="#L" x="1446"/></g><g id="n29-1462"><use href="#I" x="1462"/></g></g>
<g transform="translate(0 454.5)"><g id="n30-233"><use href="#L" x="233"/></g><g id="n30-248"><use href="#L" x="248"/></g><g id="n30-263"><use href="#I" x="263"/></g><g id="n30-278"><use href="#L" x="278"/></g><g id="n30-293"><use href="#I" x="293"/></g><g id="n30-307"><use href="#L" x="307"/></g><g id="n30-322"><use href="#L" x="322"/></g><g id="n30-337"><use href="#I" x="337"/></g><g id="n30-366"><use href="#I" x="366"/></g><g id="n30-381"><use href="#L" x="381"/></g><g id="n30-396"><use href="#L" x="396"/></g><g id="n30-411"><use href="#I" x="411"/></g><g id="n30-1402"><use href="#L" x="1402"/></g><g id="n30-1417"><use href="#L" x="1417"/></g><g id="n30-1431"><use href="#I" x="1431"/></g><g id="n30-1491"><use href="#I" x="1491"/></g></g>
<g transform="translate(0 465.9)"><g id="n31-255"><use href="#L" x="255"/></g><g id="n31-270"><use href="#L" x="270"/></g><g id="n31-285"><use href="#L" x="285"/></g><g id="n31-300"><use href="#I" x="300"/></g><g id="n31-329"><use href="#L" x="329"/></g><g id="n31-344"><use href="#I" x="344"/></g><g id="n31-359"><use href="#L" x="359"/></g><g id="n31-374"><use href="#L" x="374"/></g><g id="n31-403"><use href="#L" x="403"/></g><g id="n31-418"><use href="#L" x="418"/></g><g id="n31-1417"><use href="#I" x="1417"/></g><g id="n31-1446"><use href="#I" x="1446"/></g><g id="n31-1476"><use href="#I" x="1476"/></g><g id="n31-1506"><use href="#I" x="1506"/></g></g>
<g transform="translate(0 477.2)"><g id="n32-292"><use href="#L" x="292"/></g><g id="n32-307"><use href="#L" x="307"/></g><g id="n32-337"><use href="#L" x="337"/></g><g id="n32-352"><use href="#L" x="352"/></g><g id="n32-1409"><use href="#I" x="1409"/></g><g id="n32-1424"><use href="#L" x="1424"/></g><g id="n32-1439"><use href="#L" x="1439"/></g><g id="n32-1453"><use href="#I" x="1453"/></g><g id="n32-1468"><use href="#L" x="1468"/></g><g id="n32-1483"><use href="#I" x="1483"/></g><g id="n32-1498"><use href="#L" x="1498"/></g><g id="n32-1513"><use href="#I" x="1513"/></g></g>
<g transform="translate(0 488.6)"><g id="n33-1402"><use href="#I" x="1402"/></g><g id="n33-1417"><use href="#L" x="1417"/></g><g id="n33-1446"><use href="#I" x="1446"/></g><g id="n33-1461"><use href="#L" x="1461"/></g><g id="n33-1476"><use href="#L" x="1476"/></g><g id="n33-1491"><use href="#L" x="1491"/></g><g id="n33-1506"><use href="#L" x="1506"/></g><g id="n33-1520"><use href="#I" x="1520"/></g></g>
<g transform="translate(0 499.9)"><g id="n34-1394"><use href="#I" x="1394"/></g><g id="n34-1409"><use href="#L" x="1409"/></g><g id="n34-1439"><use href="#L" x="1439"/></g><g id="n34-1454"><use href="#L" x="1454"/></g><g id="n34-1513"><use href="#L" x="1513"/></g><g id="n34-1528"><use href="#I" x="1528"/></g></g>
<g transform="translate(0 511.3)"><g id="n35-1387"><use href="#I" x="1387"/></g><g id="n35-1402"><use href="#L" x="1402"/></g><g id="n35-1521"><use href="#L" x="1521"/></g><g id="n35-1536"><use href="#I" x="1536"/></g></g>
<g transform="translate(0 522.6)"><g id="n36-1379"><use href="#I" x="1379"/></g><g id="n36-1394"><use href="#L" x="1394"/></g><g id="n36-1521"><use href="#I" x="1521"/></g><g id="n36-1550"><use href="#I" x="1550"/></g></g>
<g transform="translate(0 534)"><g id="n37-1365"><use href="#I" x="1365"/></g><g id="n37-1394"><use href="#I" x="1394"/></g><g id="n37-1513"><use href="#I" x="1513"/></g><g id="n37-1528"><use href="#L" x="1528"/></g><g id="n37-1543"><use href="#L" x="1543"/></g><g id="n37-1557"><use href="#I" x="1557"/></g></g>
<g transform="translate(0 545.3)"><g id="n38-1357"><use href="#I" x="1357"/></g><g id="n38-1372"><use href="#L" x="1372"/></g><g id="n38-1387"><use href="#L" x="1387"/></g><g id="n38-1402"><use href="#I" x="1402"/></g><g id="n38-1506"><use href="#L" x="1506"/></g><g id="n38-1521"><use href="#L" x="1521"/></g><g id="n38-1539"><use href="#I" x="1539"/></g><g id="n38-1576"><use href="#I" x="1576"/></g></g>
<g transform="translate(0 556.7)"><g id="n39-1349"><use href="#I" x="1349"/></g><g id="n39-1365"><use href="#L" x="1365"/></g><g id="n39-1394"><use href="#L" x="1394"/></g><g id="n39-1409"><use href="#L" x="1409"/></g><g id="n39-1532"><use href="#I" x="1532"/></g><g id="n39-1546"><use href="#L" x="1546"/></g><g id="n39-1568"><use href="#L" x="1568"/></g><g id="n39-1583"><use href="#I" x="1583"/></g></g>
<g transform="translate(0 568)"><g id="n40-1342"><use href="#I" x="1342"/></g><g id="n40-1357"><use href="#L" x="1357"/></g><g id="n40-1524"><use href="#L" x="1524"/></g><g id="n40-1539"><use href="#I" x="1539"/></g><g id="n40-1576"><use href="#L" x="1576"/></g><g id="n40-1591"><use href="#I" x="1591"/></g></g>
<g transform="translate(0 579.4)"><g id="n41-1335"><use href="#I" x="1335"/></g><g id="n41-1350"><use href="#L" x="1350"/></g><g id="n41-1532"><use href="#L" x="1532"/></g><g id="n41-1546"><use href="#I" x="1546"/></g><g id="n41-1583"><use href="#I" x="1583"/></g><g id="n41-1598"><use href="#L" x="1598"/></g></g>
<g transform="translate(0 590.7)"><g id="n42-1317"><use href="#I" x="1317"/></g><g id="n42-1353"><use href="#I" x="1353"/></g><g id="n42-1539"><use href="#L" x="1539"/></g><g id="n42-1554"><use href="#L" x="1554"/></g><g id="n42-1568"><use href="#I" x="1568"/></g><g id="n42-1598"><use href="#I" x="1598"/></g></g>
<g transform="translate(0 602.1)"><g id="n43-1302"><use href="#I" x="1302"/></g><g id="n43-1332"><use href="#I" x="1332"/></g><g id="n43-1347"><use href="#L" x="1347"/></g><g id="n43-1361"><use href="#I" x="1361"/></g><g id="n43-1561"><use href="#I" x="1561"/></g><g id="n43-1576"><use href="#L" x="1576"/></g><g id="n43-1591"><use href="#L" x="1591"/></g><g id="n43-1606"><use href="#I" x="1606"/></g></g>
<g transform="translate(0 613.4)"><g id="n44-1294"><use href="#I" x="1294"/></g><g id="n44-1309"><use href="#L" x="1309"/></g><g id="n44-1324"><use href="#L" x="1324"/></g><g id="n44-1339"><use href="#I" x="1339"/></g><g id="n44-1353"><use href="#L" x="1353"/></g><g id="n44-1368"><use href="#L" x="1368"/></g><g id="n44-1554"><use href="#I" x="1554"/></g><g id="n44-1569"><use href="#L" x="1569"/></g><g id="n44-1598"><use href="#L" x="1598"/></g><g id="n44-1613"><use href="#L" x="1613"/></g></g>
<g transform="translate(0 624.8)"><g id="n45-1287"><use href="#I" x="1287"/></g><g id="n45-1302"><use href="#L" x="1302"/></g><g id="n45-1332"><use href="#L" x="1332"/></g><g id="n45-1346"><use href="#L" x="1346"/></g><g id="n45-1547"><use href="#I" x="1547"/></g><g id="n45-1562"><use href="#L" x="1562"/></g></g>
<g transform="translate(0 636.1)"><g id="n46-1279"><use href="#I" x="1279"/></g><g id="n46-1294"><use href="#L" x="1294"/></g><g id="n46-1539"><use href="#I" x="1539"/></g><g id="n46-1554"><use href="#L" x="1554"/></g></g>
<g transform="translate(0 647.5)"><g id="n47-1203"><use href="#I" x="1203"/></g><g id="n47-1356"><use href="#I" x="1356"/></g><g id="n47-1532"><use href="#L" x="1532"/></g><g id="n47-1547"><use href="#L" x="1547"/></g></g>
<g transform="translate(0 658.8)"><g id="n48-1148"><use href="#I" x="1148"/></g><g id="n48-1259"><use href="#I" x="1259"/></g><g id="n48-1341"><use href="#I" x="1341"/></g><g id="n48-1371"><use href="#I" x="1371"/></g></g>
<g transform="translate(0 670.2)"><g id="n49-1121"><use href="#I" x="1121"/></g><g id="n49-1174"><use href="#I" x="1174"/></g><g id="n49-1241"><use href="#I" x="1241"/></g><g id="n49-1278"><use href="#I" x="1278"/></g><g id="n49-1333"><use href="#L" x="1333"/></g><g id="n49-1348"><use href="#I" x="1348"/></g><g id="n49-1363"><use href="#L" x="1363"/></g><g id="n49-1378"><use href="#I" x="1378"/></g></g>
<g transform="translate(0 681.5)"><g id="n50-1089"><use href="#I" x="1089"/></g><g id="n50-1152"><use href="#I" x="1152"/></g><g id="n50-1167"><use href="#L" x="1167"/></g><g id="n50-1182"><use href="#I" x="1182"/></g><g id="n50-1226"><use href="#I" x="1226"/></g><g id="n50-1256"><use href="#I" x="1256"/></g><g id="n50-1271"><use href="#L" x="1271"/></g><g id="n50-1286"><use href="#I" x="1286"/></g><g id="n50-1341"><use href="#L" x="1341"/></g><g id="n50-1356"><use href="#L" x="1356"/></g><g id="n50-1371"><use href="#I" x="1371"/></g><g id="n50-1385"><use href="#L" x="1385"/></g></g>
<g transform="translate(0 692.9)"><g id="n51-1063"><use href="#I" x="1063"/></g><g id="n51-1115"><use href="#I" x="1115"/></g><g id="n51-1145"><use href="#I" x="1145"/></g><g id="n51-1159"><use href="#L" x="1159"/></g><g id="n51-1174"><use href="#L" x="1174"/></g><g id="n51-1189"><use href="#I" x="1189"/></g><g id="n51-1219"><use href="#I" x="1219"/></g><g id="n51-1233"><use href="#L" x="1233"/></g><g id="n51-1248"><use href="#L" x="1248"/></g><g id="n51-1263"><use href="#L" x="1263"/></g><g id="n51-1278"><use href="#L" x="1278"/></g><g id="n51-1293"><use href="#I" x="1293"/></g><g id="n51-1363"><use href="#I" x="1363"/></g><g id="n51-1378"><use href="#L" x="1378"/></g></g>
<g transform="translate(0 704.2)"><g id="n52-1035"><use href="#I" x="1035"/></g><g id="n52-1093"><use href="#I" x="1093"/></g><g id="n52-1107"><use href="#L" x="1107"/></g><g id="n52-1122"><use href="#I" x="1122"/></g><g id="n52-1137"><use href="#L" x="1137"/></g><g id="n52-1152"><use href="#L" x="1152"/></g><g id="n52-1182"><use href="#I" x="1182"/></g><g id="n52-1197"><use href="#L" x="1197"/></g><g id="n52-1211"><use href="#L" x="1211"/></g><g id="n52-1226"><use href="#L" x="1226"/></g><g id="n52-1286"><use href="#L" x="1286"/></g><g id="n52-1300"><use href="#I" x="1300"/></g><g id="n52-1356"><use href="#I" x="1356"/></g><g id="n52-1371"><use href="#L" x="1371"/></g></g>
<g transform="translate(0 715.6)"><g id="n53-999"><use href="#I" x="999"/></g><g id="n53-1070"><use href="#I" x="1070"/></g><g id="n53-1085"><use href="#L" x="1085"/></g><g id="n53-1100"><use href="#L" x="1100"/></g><g id="n53-1115"><use href="#L" x="1115"/></g><g id="n53-1130"><use href="#L" x="1130"/></g><g id="n53-1174"><use href="#L" x="1174"/></g><g id="n53-1189"><use href="#L" x="1189"/></g><g id="n53-1267"><use href="#I" x="1267"/></g><g id="n53-1333"><use href="#I" x="1333"/></g><g id="n53-1348"><use href="#L" x="1348"/></g><g id="n53-1363"><use href="#L" x="1363"/></g></g>
<g transform="translate(0 726.9)"><g id="n54-974"><use href="#I" x="974"/></g><g id="n54-1026"><use href="#I" x="1026"/></g><g id="n54-1063"><use href="#L" x="1063"/></g><g id="n54-1078"><use href="#I" x="1078"/></g><g id="n54-1252"><use href="#I" x="1252"/></g><g id="n54-1281"><use href="#I" x="1281"/></g><g id="n54-1326"><use href="#L" x="1326"/></g><g id="n54-1341"><use href="#I" x="1341"/></g></g>
<g transform="translate(0 738.3)"><g id="n55-967"><use href="#I" x="967"/></g><g id="n55-982"><use href="#L" x="982"/></g><g id="n55-1004"><use href="#I" x="1004"/></g><g id="n55-1048"><use href="#I" x="1048"/></g><g id="n55-1071"><use href="#L" x="1071"/></g><g id="n55-1086"><use href="#I" x="1086"/></g><g id="n55-1245"><use href="#I" x="1245"/></g><g id="n55-1259"><use href="#L" x="1259"/></g><g id="n55-1274"><use href="#L" x="1274"/></g><g id="n55-1289"><use href="#I" x="1289"/></g><g id="n55-1319"><use href="#I" x="1319"/></g><g id="n55-1363"><use href="#I" x="1363"/></g></g>
<g transform="translate(0 749.6)"><g id="n56-952"><use href="#I" x="952"/></g><g id="n56-982"><use href="#I" x="982"/></g><g id="n56-997"><use href="#L" x="997"/></g><g id="n56-1011"><use href="#I" x="1011"/></g><g id="n56-1041"><use href="#I" x="1041"/></g><g id="n56-1056"><use href="#L" x="1056"/></g><g id="n56-1078"><use href="#L" x="1078"/></g><g id="n56-1093"><use href="#I" x="1093"/></g><g id="n56-1237"><use href="#L" x="1237"/></g><g id="n56-1252"><use href="#L" x="1252"/></g><g id="n56-1282"><use href="#L" x="1282"/></g><g id="n56-1297"><use href="#L" x="1297"/></g><g id="n56-1312"><use href="#I" x="1312"/></g><g id="n56-1326"><use href="#L" x="1326"/></g><g id="n56-1341"><use href="#I" x="1341"/></g><g id="n56-1385"><use href="#I" x="1385"/></g></g>
<g transform="translate(0 761)"><g id="n57-945"><use href="#I" x="945"/></g><g id="n57-959"><use href="#L" x="959"/></g><g id="n57-974"><use href="#L" x="974"/></g><g id="n57-989"><use href="#I" x="989"/></g><g id="n57-1004"><use href="#L" x="1004"/></g><g id="n57-1019"><use href="#L" x="1019"/></g><g id="n57-1033"><use href="#L" x="1033"/></g><g id="n57-1048"><use href="#I" x="1048"/></g><g id="n57-1078"><use href="#I" x="1078"/></g><g id="n57-1107"><use href="#I" x="1107"/></g><g id="n57-1304"><use href="#L" x="1304"/></g><g id="n57-1319"><use href="#L" x="1319"/></g><g id="n57-1334"><use href="#I" x="1334"/></g><g id="n57-1348"><use href="#L" x="1348"/></g><g id="n57-1363"><use href="#I" x="1363"/></g><g id="n57-1408"><use href="#I" x="1408"/></g></g>
<g transform="translate(0 772.3)"><g id="n58-937"><use href="#L" x="937"/></g><g id="n58-952"><use href="#L" x="952"/></g><g id="n58-982"><use href="#L" x="982"/></g><g id="n58-997"><use href="#L" x="997"/></g><g id="n58-1041"><use href="#L" x="1041"/></g><g id="n58-1056"><use href="#L" x="1056"/></g><g id="n58-1071"><use href="#I" x="1071"/></g><g id="n58-1086"><use href="#L" x="1086"/></g><g id="n58-1100"><use href="#L" x="1100"/></g><g id="n58-1115"><use href="#I" x="1115"/></g><g id="n58-1326"><use href="#L" x="1326"/></g><g id="n58-1341"><use href="#L" x="1341"/></g><g id="n58-1356"><use href="#I" x="1356"/></g><g id="n58-1371"><use href="#L" x="1371"/></g><g id="n58-1386"><use href="#I" x="1386"/></g><g id="n58-1430"><use href="#I" x="1430"/></g></g>
<g transform="translate(0 783.7)"><g id="n59-1063"><use href="#L" x="1063"/></g><g id="n59-1078"><use href="#L" x="1078"/></g><g id="n59-1108"><use href="#L" x="1108"/></g><g id="n59-1122"><use href="#L" x="1122"/></g><g id="n59-1348"><use href="#L" x="1348"/></g><g id="n59-1363"><use href="#L" x="1363"/></g><g id="n59-1378"><use href="#L" x="1378"/></g><g id="n59-1393"><use href="#I" x="1393"/></g><g id="n59-1423"><use href="#I" x="1423"/></g><g id="n59-1437"><use href="#L" x="1437"/></g></g>
<g transform="translate(0 795)"><g id="n60-1386"><use href="#L" x="1386"/></g><g id="n60-1400"><use href="#L" x="1400"/></g><g id="n60-1415"><use href="#L" x="1415"/></g><g id="n60-1430"><use href="#L" x="1430"/></g></g>
</g>
</svg>
